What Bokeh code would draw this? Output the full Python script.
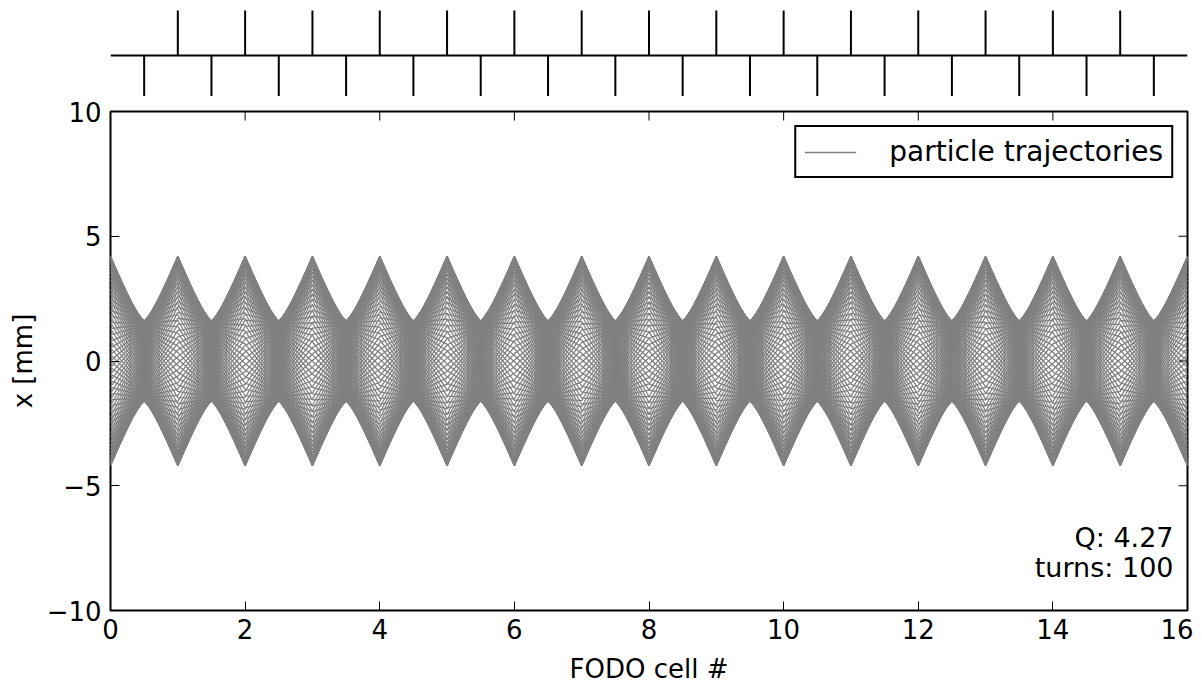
import numpy as np
from bokeh.plotting import figure
from bokeh.models import (Range1d, FixedTicker, Label, Legend,
                          LegendItem, CustomJSTickFormatter)
from bokeh.layouts import column
from bokeh.embed import file_html
from bokeh.resources import INLINE

FONT = "DejaVu Sans"
FS = "26px"

# ---------------- data ----------------
n_cells = 16
focusing_quads = [1, 2, 3, 4, 5, 6, 7, 8, 9, 10, 11, 12, 13, 14, 15]
defocusing_quads = [0.5, 1.5, 2.5, 3.5, 4.5, 5.5, 6.5, 7.5, 8.5, 9.5,
                    10.5, 11.5, 12.5, 13.5, 14.5, 15.5]
tune_Q = 4.27
n_turns = 100
envelope_at_F_mm = 4.2   # beam envelope read at the focusing quads
envelope_at_D_mm = 1.6   # beam envelope read at the defocusing quads

x_ticks = [0, 2, 4, 6, 8, 10, 12, 14, 16]
y_ticks = [-10, -5, 0, 5, 10]
legend_label = "particle trajectories"
x_label = "FODO cell #"
y_label = "x [mm]"

# ---------------- tracking (thin-lens FODO, straight lines in drifts) ----------------
nodes = sorted([0.0] + [float(v) for v in focusing_quads] +
               [float(v) for v in defocusing_quads] + [float(n_cells)])
env = [envelope_at_F_mm if float(s).is_integer() else envelope_at_D_mm for s in nodes]
mu_half = np.pi * tune_Q / n_cells          # phase advance F -> D
traj_x, traj_y = [], []
for turn in range(n_turns):
    ph0 = 2 * np.pi * tune_Q * turn
    traj_x.append(list(nodes))
    traj_y.append([e * np.cos(ph0 + j * mu_half) for j, e in enumerate(env)])

W = 1193
LB, RB = 110, 6
xr = Range1d(0, n_cells)
yr = Range1d(-10, 10)

# ---------------- lattice strip ----------------
strip_lo, strip_hi = -0.872, 1.0
top = figure(width=W, height=96, x_range=xr, y_range=Range1d(strip_lo, strip_hi),
             x_axis_type=None, y_axis_type=None, output_backend="svg",
             toolbar_location=None, min_border_left=LB, min_border_right=RB,
             min_border_top=8, min_border_bottom=0)
top.outline_line_color = None
top.grid.visible = False
top.segment(x0=[0], y0=[0], x1=[n_cells], y1=[0], line_color="black", line_width=2)
top.segment(x0=focusing_quads, y0=[0] * len(focusing_quads),
            x1=focusing_quads, y1=[0.96] * len(focusing_quads),
            line_color="black", line_width=2)
top.segment(x0=defocusing_quads, y0=[0] * len(defocusing_quads),
            x1=defocusing_quads, y1=[strip_lo] * len(defocusing_quads),
            line_color="black", line_width=2)

# ---------------- main plot ----------------
p = figure(width=W, height=590, x_range=xr, y_range=yr,
           output_backend="svg", toolbar_location=None,
           min_border_left=LB, min_border_right=RB,
           min_border_top=15, min_border_bottom=74)
p.grid.visible = False
p.outline_line_color = "black"
p.outline_line_width = 2
p.background_fill_color = "white"

r = p.multi_line(xs=traj_x, ys=traj_y, line_color="#808080", line_width=1.3)

# inward ticks on the top and right frame edges (clipped to the frame)
p.scatter(x=x_ticks, y=[yr.end] * len(x_ticks), marker="dash", size=18,
          angle=np.pi / 2, line_color="black", line_width=1)
p.scatter(x=[xr.end] * len(y_ticks), y=y_ticks, marker="dash", size=18,
          line_color="black", line_width=1)

minus_fmt = CustomJSTickFormatter(code="return tick < 0 ? '\u2212' + Math.abs(tick) : String(tick);")

p.xaxis.ticker = FixedTicker(ticks=x_ticks)
p.yaxis.ticker = FixedTicker(ticks=y_ticks)
p.xaxis.axis_label = x_label
p.yaxis.axis_label = y_label
p.xaxis.formatter = minus_fmt
p.yaxis.formatter = minus_fmt

for ax in p.axis:
    ax.major_tick_in = 9
    ax.major_tick_out = 0
    ax.minor_tick_in = 0
    ax.minor_tick_out = 0
    ax.major_tick_line_color = "black"
    ax.major_tick_line_width = 1
    ax.axis_line_color = None
    ax.major_label_text_font = FONT
    ax.major_label_text_font_size = FS
    ax.major_label_text_color = "black"
    ax.axis_label_text_font = FONT
    ax.axis_label_text_font_size = FS
    ax.axis_label_text_font_style = "normal"
    ax.axis_label_text_color = "black"

p.xaxis.major_label_standoff = 8
p.xaxis.axis_label_standoff = 12
p.yaxis.major_label_standoff = 9
p.yaxis.axis_label_standoff = 6

legend = Legend(items=[LegendItem(label=legend_label, renderers=[r])],
                location="top_right", margin=14, padding=8,
                glyph_width=52, label_standoff=33, spacing=0,
                border_line_color="black", border_line_width=2,
                border_line_alpha=1.0,
                background_fill_color="white", background_fill_alpha=1.0,
                label_text_font=FONT, label_text_font_size="28px",
                label_text_color="black")
p.add_layout(legend)

for txt, off in ((f"Q: {tune_Q}", 73), (f"turns: {n_turns}", 43)):
    p.add_layout(Label(x=xr.end, y=yr.start, x_offset=-14, y_offset=off, text=txt,
                       text_align="right", text_baseline="alphabetic",
                       text_font=FONT, text_font_size="27px", text_color="black"))

layout = column(top, p)
open("out.html", "w").write(file_html(layout, INLINE))
